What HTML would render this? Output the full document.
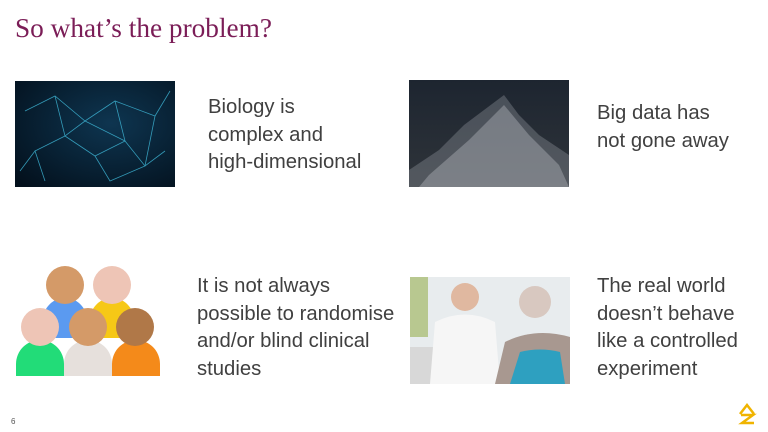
<!DOCTYPE html>
<html><head><meta charset="utf-8"><style>
body{margin:0;width:768px;height:432px;background:#fff;position:relative;overflow:hidden;font-family:"Liberation Sans",sans-serif}
.t{position:absolute;color:#404040;font-size:20.3px;line-height:27.5px}
.box{position:absolute}
</style></head><body>
<div style="position:absolute;left:15px;top:13px;font-family:'Liberation Serif',serif;font-size:27.3px;color:#7b1d57">So what’s the problem?</div>

<svg class="box" style="left:15px;top:81px" width="160" height="106">
<defs><radialGradient id="g1" cx="0.6" cy="0.4" r="0.8"><stop offset="0" stop-color="#0e3550"/><stop offset="1" stop-color="#03101c"/></radialGradient></defs>
<rect width="160" height="106" fill="url(#g1)"/>
<g stroke="#3fb8d8" stroke-width="0.8" fill="none" opacity="0.8">
<polyline points="10,30 40,15 70,40 100,20 140,35 155,10"/>
<polyline points="20,70 50,55 80,75 110,60 130,85 150,70"/>
<polyline points="40,15 50,55 70,40 110,60 100,20"/>
<polyline points="80,75 95,100 130,85 140,35"/>
<polyline points="5,90 20,70 30,100"/>
</g></svg>

<svg class="box" style="left:409px;top:80px" width="160" height="107">
<defs><linearGradient id="g2" x1="0" y1="0" x2="0" y2="1"><stop offset="0" stop-color="#1d2530"/><stop offset="1" stop-color="#2f343a"/></linearGradient></defs>
<rect width="160" height="107" fill="url(#g2)"/>
<path d="M0,90 L30,70 L55,45 L75,30 L95,15 L110,35 L130,55 L160,75 L160,107 L0,107Z" fill="#8a8f95" opacity="0.4"/>
<path d="M20,95 L60,60 L95,25 L120,55 L150,85 L160,107 L10,107Z" fill="#c8ccd0" opacity="0.35"/>
</svg>

<div class="t" style="left:208px;top:94px">Biology is<br>complex and<br>high-dimensional</div>
<div class="t" style="left:597px;top:100px">Big data has<br>not gone away</div>

<svg class="box" style="left:0;top:260px" width="180" height="120">
<path d="M43,60 a22,22 0 0 1 44,0 v18 h-44z" fill="#5b9af0"/>
<path d="M90,60 a22,22 0 0 1 44,0 v18 h-44z" fill="#f6c816"/>
<circle cx="65" cy="25" r="19" fill="#d49a68"/>
<circle cx="112" cy="25" r="19" fill="#eec5b6"/>
<path d="M16,104 a24,24 0 0 1 48,0 v12 h-48z" fill="#22dc78"/>
<path d="M64,104 a24,24 0 0 1 48,0 v12 h-48z" fill="#e6e0dc"/>
<path d="M112,104 a24,24 0 0 1 48,0 v12 h-48z" fill="#f48a1a"/>
<circle cx="40" cy="67" r="19" fill="#eec5b6"/>
<circle cx="88" cy="67" r="19" fill="#d49a68"/>
<circle cx="135" cy="67" r="19" fill="#b07848"/>
</svg>

<svg class="box" style="left:410px;top:277px" width="160" height="107">
<rect width="160" height="107" fill="#e8ecee"/>
<rect width="18" height="60" fill="#b8c890"/>
<rect x="0" y="70" width="60" height="37" fill="#d8d8d8"/>
<circle cx="55" cy="20" r="14" fill="#e0b8a0"/>
<path d="M20,107 L25,45 Q55,30 85,45 L90,107Z" fill="#f6f6f6"/>
<circle cx="125" cy="25" r="16" fill="#d8c8c0"/>
<path d="M85,107 L95,65 Q125,50 160,60 L160,107Z" fill="#a89890"/>
<path d="M100,107 L110,75 Q130,70 150,75 L155,107Z" fill="#2ea0c0"/>
</svg>

<div class="t" style="left:197px;top:273px">It is not always<br>possible to randomise<br>and/or blind clinical<br>studies</div>
<div class="t" style="left:597px;top:273px">The real world<br>doesn’t behave<br>like a controlled<br>experiment</div>

<div style="position:absolute;left:11px;top:417px;font-size:8px;color:#555">6</div>
<svg class="box" style="left:736px;top:402px" width="22" height="24">
<path d="M4,12 L11,3 L18,12 M5,13 L17,13 L6,21 L18,21" stroke="#f0b400" stroke-width="2.5" fill="none"/>
</svg>
</body></html>
